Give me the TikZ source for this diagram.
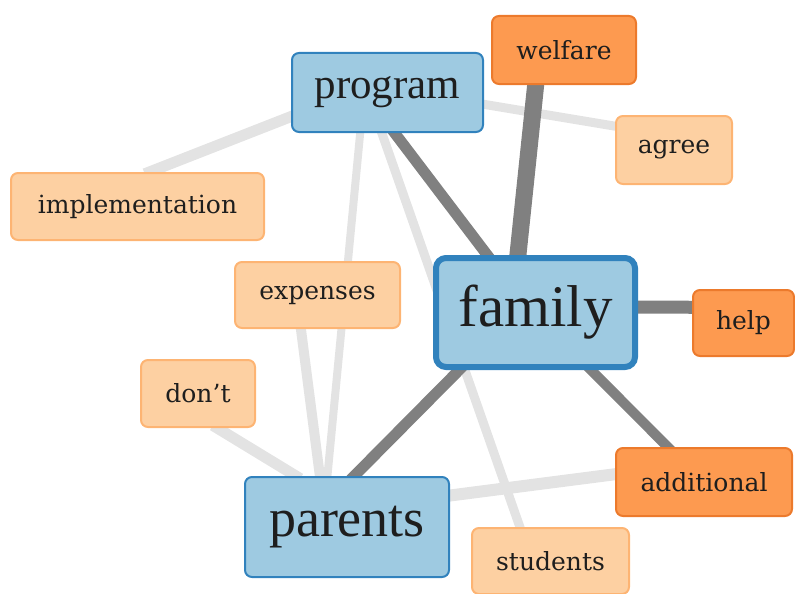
\documentclass[tikz,border=0pt]{standalone}
\usepackage{fontspec}
\setmainfont{DejaVu Serif}
\newfontfamily\bigserif{Liberation Serif}
\usetikzlibrary{backgrounds}
\definecolor{topicfill}{HTML}{9ECAE1}
\definecolor{topicline}{HTML}{3182BD}
\definecolor{wordfill}{HTML}{FDD0A2}
\definecolor{wordline}{HTML}{FDB473}
\definecolor{hotfill}{HTML}{FD9A50}
\definecolor{hotline}{HTML}{EC7a2C}
\definecolor{weakgray}{HTML}{E3E3E3}
\definecolor{stronggray}{HTML}{808080}
\definecolor{ink}{HTML}{1E1E1E}

\begin{document}
\begin{tikzpicture}[x=1pt, y=-1pt,
  every node/.style = {shape=rectangle, rounded corners=7pt,
    align=center, inner sep=0pt, text=ink,
    font=\fontsize{25}{30}\selectfont},
  word/.style = {draw=wordline, fill=wordfill, line width=2pt},
  hotword/.style = {draw=hotline, fill=hotfill, line width=2pt},
  topic/.style = {draw=topicline, fill=topicfill, line width=2pt},
  weak/.style = {draw=weakgray, line width=#1pt,
    shorten <=-5pt, shorten >=-5pt},
  strong/.style = {draw=stronggray, line width=#1pt,
    shorten <=-5pt, shorten >=-5pt}]
  \useasboundingbox (0,0) rectangle (795,594);
  \node[topic, minimum width=191pt, minimum height=79pt,
    font=\bigserif\fontsize{43}{46}\selectfont] (program) at (387.5,92.5) {program};
  \node[hotword, minimum width=144pt, minimum height=68pt] (welfare) at (564,50) {welfare};
  \node[word, minimum width=116pt, minimum height=68pt] (agree) at (674,150) {agree};
  \node[word, minimum width=253pt, minimum height=67pt] (implementation) at (137.5,206.5) {implementation};
  \node[word, minimum width=165pt, minimum height=66pt] (expenses) at (317.5,295) {expenses};
  \node[topic, line width=6pt, rounded corners=10pt, minimum width=199pt, minimum height=109pt,
    font=\bigserif\fontsize{59}{62}\selectfont] (family) at (535.5,312.5) {family};
  \node[hotword, minimum width=101pt, minimum height=66pt] (help) at (743.5,323) {help};
  \node[word, minimum width=114pt, minimum height=67pt] (dont) at (198,393.5) {don’t};
  \node[hotword, minimum width=176pt, minimum height=68pt] (additional) at (704,482) {additional};
  \node[topic, minimum width=204pt, minimum height=100pt,
    font=\bigserif\fontsize{54}{58}\selectfont] (parents) at (347,527) {parents};
  \node[word, minimum width=157pt, minimum height=66pt] (students) at (550.5,561) {students};
  \begin{pgfonlayer}{background}
    \draw[weak=9] (program.-7.6) -- (agree.158);
    \draw[weak=11] (program.-166.5) -- (implementation.71);
    \draw[weak=8] (program.-124) -- (parents.111.4);
    \draw[weak=10] (expenses.-116.6) -- (parents.118);
    \draw[weak=9] (program.-98.5) -- (students.132.3);
    \draw[weak=11] (dont.-61.5) -- (parents.135.6);
    \draw[weak=12] (parents.17.3) -- (additional.175.5);
    \draw[strong=11] (program.-80) -- (family.130);
    \draw[strong=17] (welfare.-129.6) -- (family.107.5);
    \draw[strong=13] (family.3) -- (help.163.6);
    \draw[strong=10] (family.-46.5) -- (additional.136.6);
    \draw[strong=11] (family.-143.7) -- (parents.82);
  \end{pgfonlayer}
\end{tikzpicture}
\end{document}
